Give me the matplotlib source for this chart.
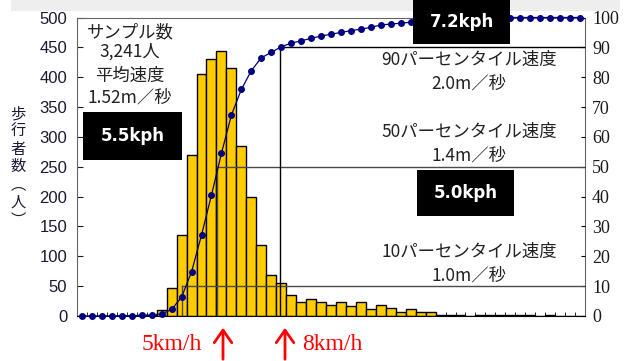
import matplotlib
matplotlib.use('Agg')
import matplotlib.pyplot as plt
from matplotlib.patches import Rectangle, FancyArrowPatch

# ---- data ----
speeds = [0.0, 0.1, 0.2, 0.3, 0.4, 0.5, 0.6, 0.7, 0.8, 0.9,
          1.0, 1.1, 1.2, 1.3, 1.4, 1.5, 1.6, 1.7, 1.8, 1.9,
          2.0, 2.1, 2.2, 2.3, 2.4, 2.5, 2.6, 2.7, 2.8, 2.9,
          3.0, 3.1, 3.2, 3.3, 3.4, 3.5, 3.6, 3.7, 3.8, 3.9,
          4.0, 4.1, 4.2, 4.3, 4.4, 4.5, 4.6, 4.7, 4.8, 4.9, 5.0]
counts = [0, 0, 0, 0, 0, 0, 1, 2, 10, 47,
          135, 270, 406, 431, 444, 415, 284, 200, 119, 68,
          56, 35, 24, 28, 24, 18, 24, 16, 24, 11,
          19, 14, 6, 11, 6, 6, 1, 1, 1, 0,
          2, 1, 1, 2, 1, 1, 0, 1, 0, 0, 0]
cum_pct = [0, 0, 0, 0, 0.1, 0.1, 0.2, 0.3, 0.7, 2.2,
           6.3, 14.8, 27.1, 40.5, 54.5, 67.3, 75.9, 82.2, 86.5, 88.3,
           90.2, 91.4, 92.2, 93.0, 93.8, 94.4, 95.0, 95.6, 96.1, 96.7,
           97.5, 97.8, 98.1, 98.4, 98.8, 99.1, 99.4, 99.6, 99.8, 99.9,
           99.9, 100, 100, 100, 100, 100, 100, 100, 100, 100, 100]
pct_levels = [10, 50, 90]
pct_speeds = [1.0, 1.36, 1.99]
left_ticks = [0, 50, 100, 150, 200, 250, 300, 350, 400, 450, 500]
right_ticks = [0, 10, 20, 30, 40, 50, 60, 70, 80, 90, 100]

JP = ['Noto Sans CJK JP', 'DejaVu Sans']

W, H = 629, 361
fig = plt.figure(figsize=(W / 100, H / 100), dpi=100)
fig.patch.set_facecolor('white')


def fx(px):
    return px / W


def fy(py):
    return 1 - py / H


# light gray band at top
fig.add_artist(Rectangle((fx(11), fy(11)), fx(620) - fx(11), fy(0) - fy(11),
                         transform=fig.transFigure, color='#eeeeee', lw=0, zorder=0))

ax = fig.add_axes([fx(77), fy(316), fx(585) - fx(77), fy(17.5) - fy(316)])
ax.set_facecolor('none')
ax.bar(speeds, counts, width=0.1, color='#FFCC00', edgecolor='black', linewidth=1, zorder=2)
ax.set_xlim(-0.05, 5.05)
ax.set_ylim(0, 500)
ax.set_yticks(left_ticks)
ax.set_yticklabels([str(t) for t in left_ticks], family='Liberation Sans', fontsize=12,
                   color='#1a1a33')
ax.tick_params(axis='y', direction='in', length=4, pad=7, colors='#1a1a33')
edges = [s - 0.05 for s in speeds] + [speeds[-1] + 0.05]
ax.set_xticks([])
ax.set_xticks(edges, minor=True)
ax.tick_params(axis='x', which='minor', direction='in', length=3, color='black')
for s in ['left', 'top', 'right']:
    ax.spines[s].set_color('#666666')
ax.spines['bottom'].set_color('black')

ax2 = ax.twinx()
ax2.set_ylim(0, 100)
ax2.set_yticks(right_ticks)
ax2.set_yticklabels([str(t) for t in right_ticks], family='Liberation Serif', fontsize=13,
                    color='#1a1a1a')
ax2.tick_params(axis='y', direction='in', length=3, pad=5)
for s in ax2.spines.values():
    s.set_visible(False)

# percentile guide lines
for sp, lv in zip(pct_speeds, pct_levels):
    c = 'black' if lv == 90 else '#4a4a4a'
    ax2.plot([sp, 5.05], [lv, lv], color=c, lw=1, zorder=3)
    ax2.plot([sp, sp], [0, lv], color=c, lw=1, zorder=3)

ax2.plot(speeds, cum_pct, color='#000080', lw=0.9, marker='o', markersize=4,
         markerfacecolor='#000080', markeredgecolor='#000080', zorder=4, clip_on=False)

# annotations
fig.text(fx(130), fy(32), 'サンプル数', family=JP, fontsize=12.5, ha='center', va='center', color='#222222')
fig.text(fx(130), fy(52), '3,241人', family=JP, fontsize=12.5, ha='center', va='center', color='#222222')
fig.text(fx(130), fy(76), '平均速度', family=JP, fontsize=12.5, ha='center', va='center', color='#222222')
fig.text(fx(130), fy(98), '1.52m／秒', family=JP, fontsize=12.5, ha='center', va='center', color='#222222')

pl_texts = [('90パーセンタイル速度', '2.0m／秒', 60, 84),
            ('50パーセンタイル速度', '1.4m／秒', 132, 155),
            ('10パーセンタイル速度', '1.0m／秒', 252, 276)]
for t1, t2, y1, y2 in pl_texts:
    fig.text(fx(469), fy(y1), t1, family=JP, fontsize=12.5, ha='center', va='center', color='#222222')
    fig.text(fx(469), fy(y2), t2, family=JP, fontsize=12.5, ha='center', va='center', color='#222222')

boxes = [('5.5kph', 83, 112, 182, 160),
         ('7.2kph', 413, -2, 510, 44),
         ('5.0kph', 417, 170, 514, 216)]
for label, x0, y0, x1, y1 in boxes:
    fig.add_artist(Rectangle((fx(x0), fy(y1)), fx(x1) - fx(x0), fy(y0) - fy(y1),
                             transform=fig.transFigure, color='black', lw=0, zorder=5))
    fig.text(fx((x0 + x1) / 2), fy((max(y0, 0) + y1) / 2), label, family='DejaVu Sans',
             fontweight='bold', fontsize=12, color='white', ha='center', va='center', zorder=6)

# y label, vertical writing
fig.text(fx(18), fy(167), '歩\n行\n者\n数\n︵\n人\n︶', family=JP, fontsize=11,
         ha='center', va='center', linespacing=1.05, color='#1a1a33')

# red km/h markers
fig.text(fx(172), fy(345), '5km/h', family='Liberation Serif', fontsize=17, color='red',
         ha='center', va='center')
fig.text(fx(332), fy(345), '8km/h', family='Liberation Serif', fontsize=17, color='red',
         ha='center', va='center')
for axx in (223, 285):
    fig.add_artist(FancyArrowPatch((fx(axx), fy(362)), (fx(axx), fy(325)),
                                   transform=fig.transFigure,
                                   arrowstyle='->,head_length=0.5,head_width=0.35',
                                   mutation_scale=18, color='red', lw=2, zorder=6))

fig.savefig('out.png', dpi=100)
